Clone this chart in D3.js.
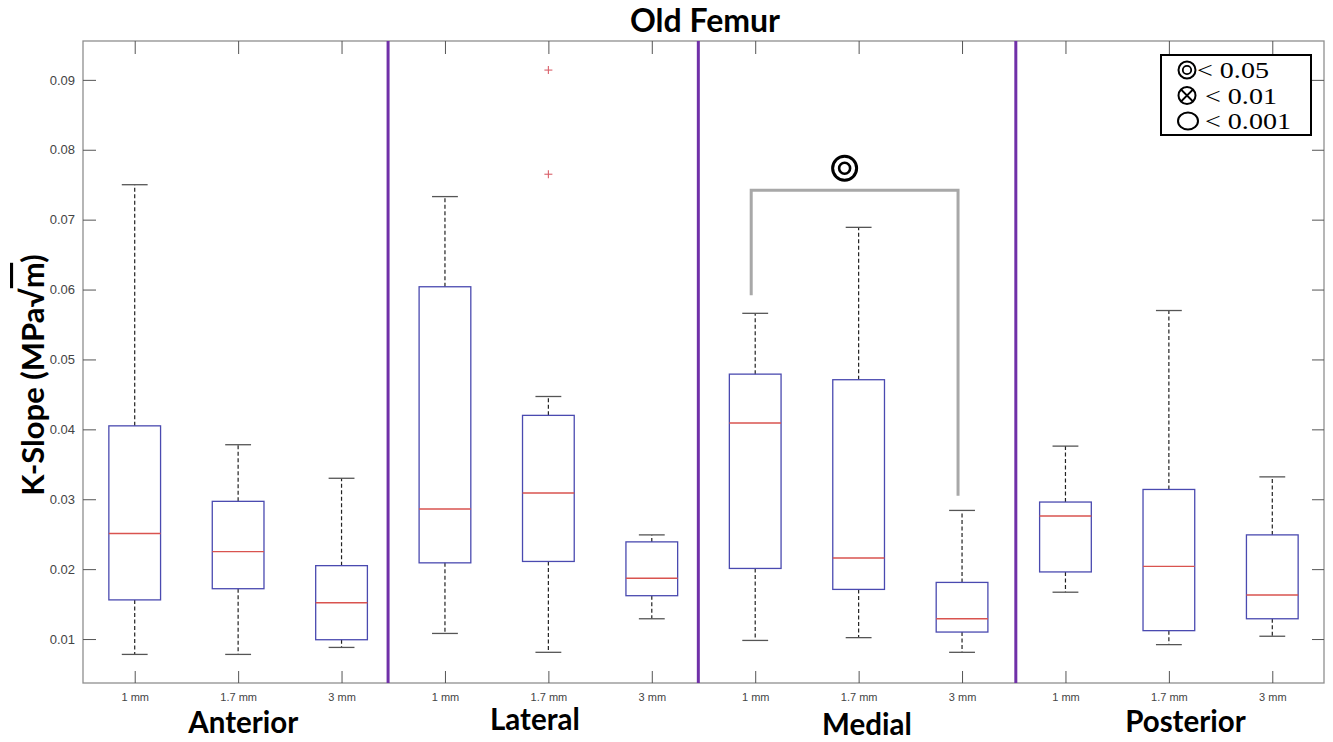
<!DOCTYPE html>
<html>
<head>
<meta charset="utf-8">
<script src="https://cdn.jsdelivr.net/npm/d3@7"></script>
<style>
  html, body { margin: 0; padding: 0; background: #fff; }
  svg { display: block; }
  .bold { font-family: Lato, "Open Sans", sans-serif; font-weight: 700; fill: #000; }
  .tick text { font-family: "Liberation Sans", Arial, sans-serif; fill: #444; }
</style>
</head>
<body>
<svg id="chart" width="1333" height="742"></svg>
<script>
// regions and hole sizes
const groups = ['Anterior', 'Lateral', 'Medial', 'Posterior'];
const sizes = ['1 mm', '1.7 mm', '3 mm'];

// box statistics, one per box, in group order
const whiskerLow  = [0.0078, 0.0078, 0.0088, 0.0108, 0.0081, 0.0129, 0.0098, 0.0102, 0.0081, 0.0167, 0.0092, 0.0104];
const q1          = [0.0156, 0.0172, 0.0099, 0.0209, 0.0211, 0.0162, 0.0201, 0.0171, 0.0110, 0.0196, 0.0112, 0.0129];
const median      = [0.0251, 0.0225, 0.0152, 0.0286, 0.0309, 0.0187, 0.0409, 0.0216, 0.0129, 0.0276, 0.0204, 0.0163];
const q3          = [0.0405, 0.0297, 0.0205, 0.0604, 0.0420, 0.0239, 0.0479, 0.0471, 0.0181, 0.0296, 0.0314, 0.0249];
const whiskerHigh = [0.0750, 0.0378, 0.0330, 0.0733, 0.0447, 0.0249, 0.0566, 0.0689, 0.0284, 0.0376, 0.0570, 0.0332];

// outliers: box index (1-based) and value
const outliers = [
  { box: 5, value: 0.0914 },
  { box: 5, value: 0.0765 }
];

const yTicks = [0.01, 0.02, 0.03, 0.04, 0.05, 0.06, 0.07, 0.08, 0.09];

// significance bracket between Medial 1 mm and Medial 3 mm
const bracket = { from: 7, to: 9, top: 0.0742, fromEnd: 0.0592, toEnd: 0.0305 };

const legendItems = ['< 0.05', '< 0.01', '< 0.001'];

const svg = d3.select('#chart');
const margin = { top: 41, right: 9, bottom: 59, left: 83 };
const W = 1333, H = 742;

const boxes = [];
groups.forEach((g, gi) => sizes.forEach((s, si) => {
  const i = gi * 3 + si;
  boxes.push({ pos: i + 1, group: g, size: s,
    lo: whiskerLow[i], q1: q1[i], med: median[i], q3: q3[i], hi: whiskerHigh[i] });
}));

const x = d3.scaleLinear().domain([0.5, 12.5]).range([margin.left, W - margin.right]);
const y = d3.scaleLinear().domain([0.00371, 0.09556]).range([H - margin.bottom, margin.top]);
const unit = x(2) - x(1);

const x0 = x.range()[0], x1 = x.range()[1];
const y0 = y.range()[0], y1 = y.range()[1];

// frame
svg.append('rect')
  .attr('x', x0).attr('y', y1)
  .attr('width', x1 - x0).attr('height', y0 - y1)
  .attr('fill', '#fff')
  .attr('stroke', '#8f8f8f')
  .attr('stroke-width', 1.3);

// axes with inward ticks
const styleAxis = g => {
  g.select('.domain').remove();
  g.selectAll('.tick line').attr('stroke', '#555').attr('stroke-width', 1);
};

svg.append('g')
  .attr('transform', `translate(${x0},0)`)
  .call(d3.axisLeft(y).tickValues(yTicks).tickSizeInner(-13).tickSizeOuter(0)
    .tickPadding(8).tickFormat(d3.format('.2f')))
  .call(styleAxis)
  .selectAll('text').attr('font-size', 13);

svg.append('g')
  .attr('transform', `translate(${x1},0)`)
  .call(d3.axisRight(y).tickValues(yTicks).tickSizeInner(-12).tickSizeOuter(0).tickFormat(''))
  .call(styleAxis);

svg.append('g')
  .attr('transform', `translate(0,${y0})`)
  .call(d3.axisBottom(x).tickValues(boxes.map(b => b.pos)).tickSizeInner(-12).tickSizeOuter(0)
    .tickPadding(10).tickFormat(d => boxes[d - 1].size))
  .call(styleAxis)
  .selectAll('text').attr('font-size', 11);

svg.append('g')
  .attr('transform', `translate(0,${y1})`)
  .call(d3.axisTop(x).tickValues(boxes.map(b => b.pos)).tickSizeInner(-13).tickSizeOuter(0).tickFormat(''))
  .call(styleAxis);

// boxplots
const bw = unit * 0.5, cw = unit * 0.25;
const bg = svg.append('g').selectAll('g.box').data(boxes).join('g').attr('class', 'box');

bg.append('line')
  .attr('x1', d => x(d.pos)).attr('x2', d => x(d.pos))
  .attr('y1', d => y(d.q3)).attr('y2', d => y(d.hi))
  .attr('stroke', '#222').attr('stroke-width', 1.2).attr('stroke-dasharray', '4,2.5');
bg.append('line')
  .attr('x1', d => x(d.pos)).attr('x2', d => x(d.pos))
  .attr('y1', d => y(d.q1)).attr('y2', d => y(d.lo))
  .attr('stroke', '#222').attr('stroke-width', 1.2).attr('stroke-dasharray', '4,2.5');

['hi', 'lo'].forEach(k => {
  bg.append('line')
    .attr('x1', d => x(d.pos) - cw / 2).attr('x2', d => x(d.pos) + cw / 2)
    .attr('y1', d => y(d[k])).attr('y2', d => y(d[k]))
    .attr('stroke', '#555').attr('stroke-width', 1.3);
});

bg.append('rect')
  .attr('x', d => x(d.pos) - bw / 2).attr('width', bw)
  .attr('y', d => y(d.q3)).attr('height', d => y(d.q1) - y(d.q3))
  .attr('fill', 'none').attr('stroke', '#4a4ab0').attr('stroke-width', 1.3);

bg.append('line')
  .attr('x1', d => x(d.pos) - bw / 2).attr('x2', d => x(d.pos) + bw / 2)
  .attr('y1', d => y(d.med)).attr('y2', d => y(d.med))
  .attr('stroke', '#d9534f').attr('stroke-width', 1.4);

// outliers
const og = svg.append('g').selectAll('g').data(outliers).join('g')
  .attr('transform', d => `translate(${x(d.box)},${y(d.value)})`)
  .attr('stroke', '#d9606a').attr('stroke-width', 1.1);
og.append('line').attr('x1', -4).attr('x2', 4);
og.append('line').attr('y1', -4).attr('y2', 4);

// region dividers
const dividers = [3.45, 6.45, 9.52];
svg.append('g').selectAll('line').data(dividers).join('line')
  .attr('x1', d => x(d)).attr('x2', d => x(d))
  .attr('y1', y1).attr('y2', y0)
  .attr('stroke', '#7030a8').attr('stroke-width', 3);

// significance bracket
const bx0 = x(bracket.from) - 4, bx1 = x(bracket.to) - 4;
svg.append('path')
  .attr('d', `M${bx0},${y(bracket.fromEnd)}V${y(bracket.top)}H${bx1}V${y(bracket.toEnd)}`)
  .attr('fill', 'none').attr('stroke', '#a8a8a8').attr('stroke-width', 3);

const sx = (bx0 + bx1) / 2 - 10, sy = y(bracket.top) - 22;
svg.append('circle').attr('cx', sx).attr('cy', sy).attr('r', 12)
  .attr('fill', 'none').attr('stroke', '#000').attr('stroke-width', 3);
svg.append('circle').attr('cx', sx).attr('cy', sy).attr('r', 5.5)
  .attr('fill', 'none').attr('stroke', '#000').attr('stroke-width', 2.6);

// legend
const lg = svg.append('g').attr('transform', 'translate(1161,55)');
lg.append('rect').attr('width', 150).attr('height', 80)
  .attr('fill', '#fff').attr('stroke', '#000').attr('stroke-width', 2);
const rowY = i => 15 + i * 25.5;
// symbols
lg.append('circle').attr('cx', 26).attr('cy', rowY(0)).attr('r', 8.5)
  .attr('fill', 'none').attr('stroke', '#000').attr('stroke-width', 2);
lg.append('circle').attr('cx', 26).attr('cy', rowY(0)).attr('r', 4.2)
  .attr('fill', 'none').attr('stroke', '#000').attr('stroke-width', 1.8);
lg.append('circle').attr('cx', 26).attr('cy', rowY(1)).attr('r', 8.5)
  .attr('fill', 'none').attr('stroke', '#000').attr('stroke-width', 2);
lg.append('path')
  .attr('d', `M${26 - 6},${rowY(1) - 6}L${26 + 6},${rowY(1) + 6}M${26 + 6},${rowY(1) - 6}L${26 - 6},${rowY(1) + 6}`)
  .attr('stroke', '#000').attr('stroke-width', 1.8);
lg.append('ellipse').attr('cx', 27).attr('cy', rowY(2)).attr('rx', 10).attr('ry', 8.5)
  .attr('fill', 'none').attr('stroke', '#000').attr('stroke-width', 2);
lg.selectAll('text.leg').data(legendItems).join('text')
  .attr('class', 'leg')
  .attr('x', (d, i) => i === 0 ? 36 : 44)
  .attr('y', (d, i) => rowY(i) + 8)
  .attr('font-family', '"Liberation Serif", "Times New Roman", serif')
  .attr('font-size', 23)
  .text(d => d)
  .each(function () {
    // the original legend text is set wide
    const w = this.getComputedTextLength();
    d3.select(this).attr('textLength', w * 1.22).attr('lengthAdjust', 'spacingAndGlyphs');
  });

// titles
svg.append('text').attr('class', 'bold')
  .attr('x', 705).attr('y', 32).attr('text-anchor', 'middle')
  .attr('font-size', 32).text('Old Femur');

const yl = svg.append('text').attr('class', 'bold')
  .attr('transform', `translate(44,375) rotate(-90)`)
  .attr('text-anchor', 'middle').attr('font-size', 31);
yl.append('tspan').text('K-Slope (MPa√');
yl.append('tspan').style('text-decoration', 'overline').text('m');
yl.append('tspan').text(')');

// region labels under each group
const labelShift = [0.05, -0.13, 0.08, 0.16];
svg.append('g').selectAll('text').data(groups).join('text')
  .attr('class', 'bold')
  .attr('x', (d, i) => x(i * 3 + 2 + labelShift[i]))
  .attr('y', (d, i) => [733, 730, 735, 732][i])
  .attr('text-anchor', 'middle').attr('font-size', 29.5)
  .text(d => d);
</script>
</body>
</html>
